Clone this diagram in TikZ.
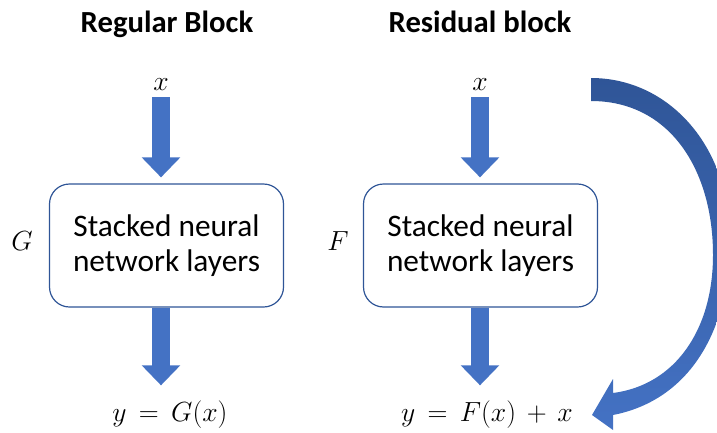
\documentclass[tikz,border=0pt]{standalone}
\usepackage[no-math]{fontspec}
\setmainfont{Carlito}
\usetikzlibrary{arrows.meta}

\definecolor{officeBlue}{HTML}{4472C4}
\definecolor{officeDark}{HTML}{2F5597}

\begin{document}
\begin{tikzpicture}[x=0.75pt,y=0.75pt,yscale=-1,xscale=1,
  blocktitle/.style={font=\fontsize{23}{27}\selectfont\bfseries, anchor=base, inner sep=0pt},
  mathlbl/.style={font=\fontsize{22}{26}\selectfont, anchor=base, inner sep=0pt},
  stackbox/.style={draw=officeDark, line width=0.9pt, rounded corners=15pt, fill=white,
    minimum width=175.5pt, minimum height=92.25pt, align=center,
    font=\fontsize{23.5}{26.25}\selectfont},
  fatarrow/.style={draw=officeBlue, line width=13.5pt, -{Triangle[length=15pt,width=28pt]}}]
\path[use as bounding box] (0,0) rectangle (717,432);

%Titles
\node[blocktitle] (regTitle) at (167,32) {Regular Block};
\node[blocktitle] (resTitle) at (480,32) {Residual block};

%Inputs
\node[mathlbl] (xin1) at (161,90) {$x$};
\node[mathlbl] (xin2) at (480,90) {$x$};

%Stacked layers
\node[stackbox] (gBox) at (166.5,245.5) {Stacked neural\\network layers};
\node[stackbox] (fBox) at (480.5,245.5) {Stacked neural\\network layers};
\node[mathlbl] (gLbl) at (22,250) {$G$};
\node[mathlbl] (fLbl) at (338,250) {$F$};

%Outputs
\node[mathlbl] (yG) at (170,421) {$y\,=\,G(x)$};
\node[mathlbl] (yF) at (487,421) {$y\,=\,F(x)\,+\,x$};

%Block arrows
\draw[fatarrow, shorten <=5.25pt, shorten >=4.5pt] (xin1) -- (xin1 |- gBox.north);
\draw[fatarrow, shorten <=5.25pt, shorten >=4.5pt] (xin2) -- (xin2 |- fBox.north);
\draw[fatarrow, shorten >=11pt] (xin1 |- gBox.south) -- (xin1 |- yG.north);
\draw[fatarrow, shorten >=11pt] (xin2 |- fBox.south) -- (xin2 |- yF.north);

%Skip connection
\begin{scope}
\clip (0,0) rectangle (717,432);
\shade[top color=officeDark, bottom color=officeBlue]
  (591,78) .. controls (668,78) and (730,145) .. (730,240)
  .. controls (730,330) and (690,400) .. (613,415)
  -- (613,430) -- (592,415) -- (613,379) -- (613,393)
  .. controls (675,385) and (713,330) .. (713,255)
  .. controls (713,170) and (670,101) .. (591,101) -- cycle;
\end{scope}
\end{tikzpicture}
\end{document}
